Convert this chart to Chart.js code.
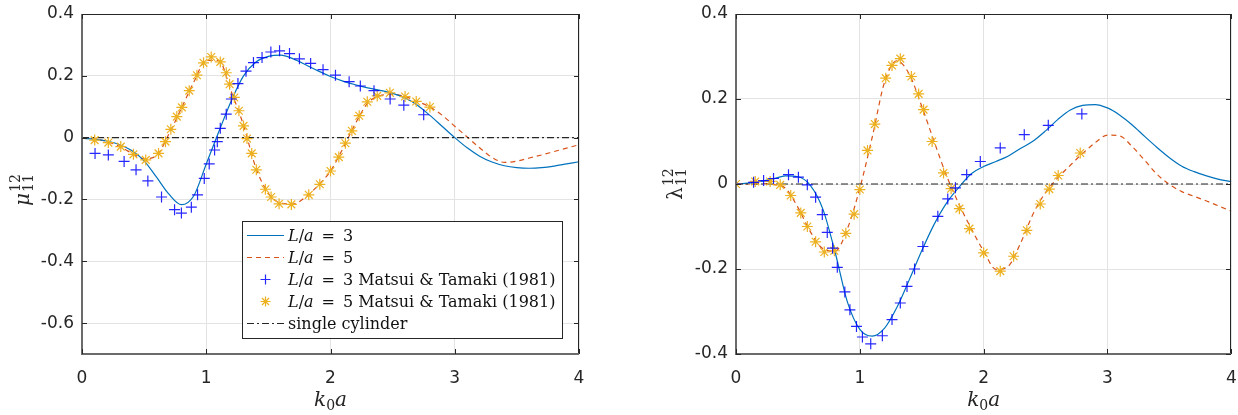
<!DOCTYPE html>
<html>
<head>
<meta charset="utf-8">
<script src="https://cdn.jsdelivr.net/npm/chart.js@4.4.1/dist/chart.umd.min.js"></script>
<style>
  html, body { margin: 0; padding: 0; background: #fff; }
  #wrap { position: relative; width: 1238px; height: 415px; }
  .box { position: absolute; top: 0; width: 619px; height: 415px; }
  #leftBox { left: 0; }
  #rightBox { left: 619px; }
</style>
</head>
<body>
<div id="wrap">
  <div class="box" id="leftBox"><canvas id="muChart" width="619" height="415"></canvas></div>
  <div class="box" id="rightBox"><canvas id="lambdaChart" width="619" height="415"></canvas></div>
</div>
<script>
// ---- data ----
const xTicks = [0, 1, 2, 3, 4];
const muTicks = [-0.6, -0.4, -0.2, 0, 0.2, 0.4];
const lamTicks = [-0.4, -0.2, 0, 0.2, 0.4];

// k0a grid for the computed curves
const kGrid = [0, 0.1, 0.2, 0.3, 0.4, 0.5, 0.6, 0.7, 0.8, 0.9,
  1.0, 1.1, 1.2, 1.3, 1.4, 1.5, 1.6, 1.7, 1.8, 1.9,
  2.0, 2.1, 2.2, 2.3, 2.4, 2.5, 2.6, 2.7, 2.8, 2.9,
  3.0, 3.1, 3.2, 3.3, 3.4, 3.5, 3.6, 3.7, 3.8, 3.9, 4.0];

// mu_11^12
const muL3 = [-0.002, -0.005, -0.011, -0.022, -0.042, -0.075, -0.128, -0.183, -0.217, -0.188,
  -0.085, 0.018, 0.118, 0.200, 0.245, 0.263, 0.267, 0.255, 0.236, 0.216,
  0.198, 0.183, 0.171, 0.161, 0.153, 0.143, 0.128, 0.105, 0.072, 0.036,
  0.0, -0.033, -0.060, -0.079, -0.091, -0.097, -0.099, -0.097, -0.092, -0.085, -0.078];
const muL5 = [0, -0.004, -0.013, -0.028, -0.050, -0.068, -0.058, 0.012, 0.095, 0.180,
  0.250, 0.250, 0.150, 0.040, -0.098, -0.180, -0.212, -0.215, -0.192, -0.155,
  -0.108, -0.035, 0.045, 0.112, 0.136, 0.140, 0.133, 0.117, 0.099, 0.072,
  0.037, 0.002, -0.033, -0.064, -0.080, -0.076, -0.066, -0.056, -0.045, -0.034, -0.023];

const muMatsuiL3K = [0.105, 0.212, 0.339, 0.435, 0.53, 0.64, 0.745, 0.80, 0.88, 0.93,
  0.984, 1.024, 1.067, 1.089, 1.113, 1.161, 1.202, 1.255, 1.32, 1.38,
  1.449, 1.52, 1.59, 1.67, 1.75, 1.84, 1.94, 2.04, 2.15, 2.24,
  2.35, 2.48, 2.59, 2.75];
const muMatsuiL3 = [-0.051, -0.056, -0.077, -0.104, -0.14, -0.192, -0.233, -0.244, -0.225, -0.185,
  -0.132, -0.085, -0.04, -0.013, 0.03, 0.076, 0.125, 0.175, 0.215, 0.243,
  0.259, 0.277, 0.281, 0.272, 0.255, 0.24, 0.22, 0.202, 0.181, 0.167,
  0.152, 0.125, 0.105, 0.074];

const muMatsuiL5K = [0.102, 0.212, 0.312, 0.414, 0.513, 0.616, 0.672, 0.715, 0.763, 0.804,
  0.863, 0.925, 0.978, 1.04, 1.113, 1.161, 1.188, 1.226, 1.263, 1.30,
  1.328, 1.366, 1.403, 1.476, 1.522, 1.586, 1.685, 1.825, 1.914, 2.0,
  2.067, 2.12, 2.172, 2.231, 2.296, 2.376, 2.478, 2.60, 2.69, 2.80];
const muMatsuiL5 = [-0.008, -0.016, -0.029, -0.054, -0.072, -0.051, -0.013, 0.027, 0.068, 0.098,
  0.152, 0.202, 0.242, 0.261, 0.245, 0.21, 0.173, 0.13, 0.087, 0.038,
  -0.003, -0.051, -0.104, -0.167, -0.192, -0.214, -0.216, -0.185, -0.151, -0.108,
  -0.063, -0.018, 0.022, 0.071, 0.116, 0.135, 0.145, 0.133, 0.117, 0.099];

// lambda_11^12
const lamL3 = [0, 0.002, 0.006, 0.012, 0.019, 0.017, -0.003, -0.058, -0.160, -0.278,
  -0.342, -0.358, -0.339, -0.290, -0.225, -0.157, -0.095, -0.045, -0.008, 0.024,
  0.041, 0.053, 0.066, 0.084, 0.101, 0.125, 0.152, 0.174, 0.185, 0.187,
  0.179, 0.162, 0.139, 0.112, 0.086, 0.062, 0.042, 0.029, 0.019, 0.011, 0.006];
const lamL5 = [0, 0, 0.001, -0.001, -0.010, -0.055, -0.112, -0.152, -0.158, -0.105,
  -0.010, 0.110, 0.240, 0.290, 0.258, 0.183, 0.100, 0.020, -0.047, -0.105,
  -0.158, -0.201, -0.193, -0.138, -0.070, -0.020, 0.015, 0.044, 0.072, 0.097,
  0.115, 0.113, 0.088, 0.056, 0.023, -0.001, -0.018, -0.029, -0.040, -0.052, -0.064];

const lamMatsuiL3K = [0, 0.142, 0.223, 0.303, 0.424, 0.504, 0.576, 0.643, 0.697, 0.737,
  0.78, 0.818, 0.879, 0.92, 0.973, 1.021, 1.088, 1.182, 1.26, 1.327,
  1.381, 1.442, 1.509, 1.63, 1.71, 1.772, 1.863, 1.973, 2.134, 2.328,
  2.522, 2.793];
const lamMatsuiL3 = [0, 0.004, 0.008, 0.013, 0.022, 0.016, -0.002, -0.031, -0.072, -0.114,
  -0.151, -0.196, -0.254, -0.296, -0.335, -0.36, -0.376, -0.357, -0.319, -0.28,
  -0.241, -0.2, -0.147, -0.076, -0.035, -0.009, 0.022, 0.053, 0.085, 0.116,
  0.138, 0.165];

const lamMatsuiL5K = [0, 0.155, 0.276, 0.357, 0.442, 0.523, 0.576, 0.643, 0.713, 0.794,
  0.887, 0.954, 1.0, 1.062, 1.121, 1.209, 1.26, 1.327, 1.416, 1.475,
  1.515, 1.584, 1.676, 1.737, 1.804, 1.885, 2.0, 2.134, 2.242, 2.349,
  2.457, 2.53, 2.602, 2.78];
const lamMatsuiL5 = [0, 0.006, 0.006, -0.002, -0.027, -0.068, -0.1, -0.136, -0.16, -0.157,
  -0.116, -0.071, -0.013, 0.079, 0.141, 0.249, 0.279, 0.295, 0.253, 0.212,
  0.175, 0.1, 0.026, -0.011, -0.058, -0.105, -0.162, -0.205, -0.17, -0.109,
  -0.047, -0.012, 0.02, 0.073];

const cylK = [0, 4];
const cylVal = [0, 0];

const seriesLabels = ['L/a = 3', 'L/a = 5', 'L/a = 3 Matsui & Tamaki (1981)',
  'L/a = 5 Matsui & Tamaki (1981)', 'single cylinder'];

// ---- styling ----
const INK = '#262626';
const BLUE = '#0072BD';
const RED = '#D95319';
const MARK_BLUE = 'rgba(0, 0, 255, 0.85)';
const MARK_GOLD = '#EDB120';
const SERIF = '"DejaVu Serif", serif';

Chart.defaults.font.family = '"DejaVu Sans", sans-serif';
Chart.defaults.color = INK;

const pts = (xs, ys) => xs.map((x, i) => ({ x: x, y: ys[i] }));

function buildDatasets(l3, l5, m3k, m3, m5k, m5) {
  return [
    { label: seriesLabels[0], data: pts(kGrid, l3), borderColor: BLUE, borderWidth: 1.2,
      pointRadius: 0, cubicInterpolationMode: 'monotone', order: 2 },
    { label: seriesLabels[1], data: pts(kGrid, l5), borderColor: RED, borderWidth: 1.2,
      borderDash: [5, 4], pointRadius: 0, cubicInterpolationMode: 'monotone', order: 2 },
    { label: seriesLabels[2], data: pts(m3k, m3), showLine: false, pointStyle: 'cross',
      pointRadius: 5.5, pointBorderWidth: 1.2, pointBorderColor: MARK_BLUE, borderColor: MARK_BLUE, order: 0 },
    { label: seriesLabels[3], data: pts(m5k, m5), showLine: false, pointStyle: 'star',
      pointRadius: 5.5, pointBorderWidth: 1.2, pointBorderColor: MARK_GOLD, borderColor: MARK_GOLD, order: 0 },
    { label: seriesLabels[4], data: pts(cylK, cylVal), borderColor: INK, borderWidth: 1.2,
      borderDash: [7, 3, 2, 3], pointRadius: 0, order: 1 }
  ];
}

function drawMarker(ctx, kind, x, y, r) {
  ctx.beginPath();
  ctx.moveTo(x - r, y); ctx.lineTo(x + r, y);
  ctx.moveTo(x, y - r); ctx.lineTo(x, y + r);
  if (kind === 'star') {
    const d = r * Math.SQRT1_2;
    ctx.moveTo(x - d, y - d); ctx.lineTo(x + d, y + d);
    ctx.moveTo(x - d, y + d); ctx.lineTo(x + d, y - d);
  }
  ctx.stroke();
}

// text like "L/a = 3 ..." with L and a in italics
function drawLabel(ctx, text, x, y, size) {
  const parts = text.startsWith('L/a')
    ? [['L', true], ['/', false], ['a', true], [text.slice(3).replace(' = ', '\u2002=\u2002'), false]]
    : [[text, false]];
  parts.forEach(([t, it]) => {
    ctx.font = (it ? 'italic ' : '') + size + 'px ' + SERIF;
    ctx.fillText(t, x, y);
    x += ctx.measureText(t).width;
  });
}

const decor = {
  id: 'decor',
  afterDraw(chart, args, opts) {
    const { ctx, chartArea: a, scales: { x: sx, y: sy } } = chart;
    const L = Math.round(a.left), R = Math.round(a.right), T = Math.round(a.top), B = Math.round(a.bottom);
    ctx.save();

    // axes box
    ctx.strokeStyle = INK;
    ctx.lineWidth = 1;
    ctx.beginPath();
    ctx.moveTo(L, T + 0.5); ctx.lineTo(R, T + 0.5);
    ctx.moveTo(R - 0.5, T); ctx.lineTo(R - 0.5, B);
    ctx.stroke();
    ctx.strokeStyle = '#6b6b6b';
    ctx.lineWidth = 2;
    ctx.beginPath();
    ctx.moveTo(L, T); ctx.lineTo(L, B + 1);
    ctx.moveTo(L - 1, B); ctx.lineTo(R, B);
    ctx.stroke();

    // inward ticks
    ctx.strokeStyle = INK;
    ctx.lineWidth = 1;
    ctx.beginPath();
    sx.ticks.forEach(t => {
      const p = Math.round(sx.getPixelForValue(t.value)) + 0.5;
      ctx.moveTo(p, B); ctx.lineTo(p, B - 5);
      ctx.moveTo(p, T); ctx.lineTo(p, T + 5);
    });
    sy.ticks.forEach(t => {
      const p = Math.round(sy.getPixelForValue(t.value)) + 0.5;
      ctx.moveTo(L, p); ctx.lineTo(L + 5, p);
      ctx.moveTo(R, p); ctx.lineTo(R - 5, p);
    });
    ctx.stroke();

    ctx.fillStyle = INK;
    ctx.textBaseline = 'alphabetic';
    ctx.textAlign = 'left';

    // y title: symbol with stacked super/subscript, rotated
    const yt = opts.yTitle;
    ctx.save();
    ctx.translate(yt.cx, yt.cy);
    ctx.rotate(-Math.PI / 2);
    const mainFont = (yt.italic ? 'italic ' : '') + '20px ' + SERIF;
    const scriptFont = '14px ' + SERIF;
    ctx.font = mainFont;
    const wm = ctx.measureText(yt.sym).width;
    ctx.font = scriptFont;
    const ws = ctx.measureText('12').width;
    const x0 = -(wm + 1 + ws) / 2;
    ctx.font = mainFont;
    ctx.fillText(yt.sym, x0, 0);
    ctx.font = scriptFont;
    ctx.fillText('12', x0 + wm + 1, -9);
    ctx.fillText('11', x0 + wm + 1, 4);
    ctx.restore();

    // x title: k_0 a
    const cx = (a.left + a.right) / 2;
    const by = 406;
    ctx.font = 'italic 20px ' + SERIF;
    const wk = ctx.measureText('k').width;
    const wa = ctx.measureText('a').width;
    ctx.font = '14px ' + SERIF;
    const w0 = ctx.measureText('0').width;
    let tx = cx - (wk + w0 + wa) / 2;
    ctx.font = 'italic 20px ' + SERIF;
    ctx.fillText('k', tx, by);
    tx += wk;
    ctx.font = '14px ' + SERIF;
    ctx.fillText('0', tx, by + 4);
    tx += w0;
    ctx.font = 'italic 20px ' + SERIF;
    ctx.fillText('a', tx, by);

    // legend box
    const lg = opts.legend;
    if (lg) {
      ctx.fillStyle = '#fff';
      ctx.fillRect(lg.x, lg.y, lg.w, lg.h);
      ctx.strokeStyle = INK;
      ctx.lineWidth = 1;
      ctx.strokeRect(lg.x + 0.5, lg.y + 0.5, lg.w, lg.h);
      ctx.textBaseline = 'middle';
      chart.data.datasets.forEach((ds, i) => {
        const ry = lg.y + 14 + i * 22 + 0.5;
        const s0 = lg.x + 5, s1 = lg.x + 42;
        ctx.save();
        if (ds.showLine === false) {
          ctx.strokeStyle = ds.pointBorderColor;
          ctx.lineWidth = ds.pointBorderWidth;
          drawMarker(ctx, ds.pointStyle, (s0 + s1) / 2, ry, 5);
        } else {
          ctx.strokeStyle = ds.borderColor;
          ctx.lineWidth = ds.borderWidth;
          ctx.setLineDash(ds.borderDash || []);
          ctx.beginPath();
          ctx.moveTo(s0, ry); ctx.lineTo(s1, ry);
          ctx.stroke();
        }
        ctx.restore();
        ctx.fillStyle = '#111';
        drawLabel(ctx, ds.label, lg.x + 46, ry + 1, 16);
      });
    }
    ctx.restore();
  }
};

function makeChart(canvasId, datasets, yMin, yMax, yTicks, layout, decorOpts) {
  return new Chart(document.getElementById(canvasId), {
    type: 'line',
    data: { datasets: datasets },
    plugins: [decor],
    options: {
      responsive: false,
      animation: false,
      events: [],
      layout: { padding: { top: 14, bottom: 0, left: 0, right: layout.right } },
      plugins: {
        legend: { display: false },
        tooltip: { enabled: false },
        decor: decorOpts
      },
      scales: {
        x: {
          type: 'linear', min: 0, max: 4,
          afterBuildTicks: s => { s.ticks = xTicks.map(v => ({ value: v })); },
          afterFit: s => { s.height = 61; s.paddingLeft = 0; s.paddingRight = 0; },
          grid: { color: '#e3e3e3', drawTicks: false },
          border: { display: false },
          ticks: { padding: 14, font: { size: 17 }, color: INK, maxRotation: 0 }
        },
        y: {
          type: 'linear', min: yMin, max: yMax,
          afterBuildTicks: s => { s.ticks = yTicks.map(v => ({ value: v })); },
          afterFit: s => { s.width = layout.yWidth; s.paddingTop = 0; s.paddingBottom = 0; },
          grid: { color: '#e3e3e3', drawTicks: false },
          border: { display: false },
          ticks: {
            padding: layout.tickPad, font: { size: 17 }, color: INK,
            callback: v => (v === 0 ? '0' : String(Math.round(v * 10) / 10))
          }
        }
      }
    }
  });
}

makeChart('muChart',
  buildDatasets(muL3, muL5, muMatsuiL3K, muMatsuiL3, muMatsuiL5K, muMatsuiL5),
  -0.7, 0.4, muTicks,
  { right: 40, yWidth: 82, tickPad: 8 },
  { yTitle: { sym: 'μ', italic: true, cx: 29, cy: 190 },
    legend: { x: 242, y: 221, w: 320, h: 117 } });

makeChart('lambdaChart',
  buildDatasets(lamL3, lamL5, lamMatsuiL3K, lamMatsuiL3, lamMatsuiL5K, lamMatsuiL5),
  -0.4, 0.4, lamTicks,
  { right: 5, yWidth: 117, tickPad: 8 },
  { yTitle: { sym: 'λ', italic: false, cx: 63, cy: 184 } });
</script>
</body>
</html>
